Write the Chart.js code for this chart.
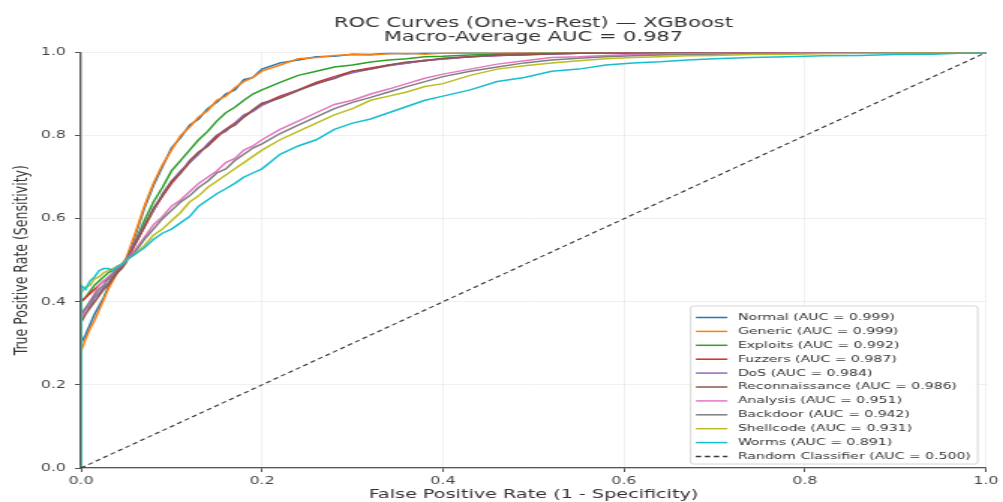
<!DOCTYPE html>
<html lang="en">
<head>
<meta charset="UTF-8">
<title>ROC Curves - XGBoost</title>
<script src="https://cdn.jsdelivr.net/npm/chart.js@4.4.0/dist/chart.umd.min.js"></script>
<style>
  html, body { margin: 0; padding: 0; background: #fff; }
</style>
</head>
<body>
<!-- the canvas is drawn narrow and stretched sideways, like the source picture -->
<canvas id="rocChart" width="669" height="502" style="display:block;width:1003px;height:502px"></canvas>
<script>
// shared false positive rate grid
const fpr = [
  0, 0, 0.005, 0.01, 0.015, 0.02, 0.025, 0.03, 0.035, 0.04, 0.045,
  0.05, 0.06, 0.07, 0.08, 0.09, 0.10, 0.11, 0.12, 0.13, 0.14, 0.15,
  0.16, 0.17, 0.18, 0.19, 0.20, 0.22, 0.24, 0.26, 0.28, 0.30, 0.32,
  0.34, 0.36, 0.38, 0.40, 0.43, 0.46, 0.49, 0.52, 0.55, 0.58, 0.61,
  0.64, 0.67, 0.70, 0.74, 0.78, 0.82, 0.86, 0.90, 0.94, 0.97, 1.0
];

// true positive rate per class
const tprNormal = [
  0, 0.30, 0.32, 0.345, 0.37, 0.39, 0.41, 0.435, 0.455, 0.47, 0.485,
  0.50, 0.56, 0.625, 0.68, 0.725, 0.77, 0.795, 0.825, 0.84, 0.865, 0.88,
  0.90, 0.91, 0.935, 0.94, 0.96, 0.975, 0.982, 0.99, 0.991, 0.996, 0.995,
  0.998, 0.997, 0.999, 0.998, 1.0, 0.999, 1.0, 1.0, 1.0, 0.999, 1.0,
  1.0, 1.0, 1.0, 1.0, 1.0, 1.0, 1.0, 1.0, 1.0, 1.0, 1.0
];
const tprGeneric = [
  0, 0.28, 0.31, 0.335, 0.355, 0.38, 0.405, 0.43, 0.45, 0.47, 0.49,
  0.505, 0.565, 0.63, 0.685, 0.73, 0.765, 0.80, 0.82, 0.845, 0.86, 0.885,
  0.895, 0.915, 0.93, 0.94, 0.955, 0.97, 0.985, 0.988, 0.993, 0.995, 0.994,
  0.997, 0.998, 0.996, 0.999, 0.998, 0.999, 1.0, 0.999, 1.0, 1.0, 0.999,
  1.0, 1.0, 1.0, 1.0, 1.0, 1.0, 1.0, 1.0, 1.0, 1.0, 1.0
];
const tprExploits = [
  0, 0.40, 0.41, 0.425, 0.44, 0.45, 0.46, 0.47, 0.475, 0.485, 0.49,
  0.50, 0.545, 0.595, 0.64, 0.675, 0.715, 0.74, 0.765, 0.79, 0.81, 0.835,
  0.855, 0.868, 0.885, 0.90, 0.91, 0.928, 0.945, 0.955, 0.965, 0.97, 0.977,
  0.982, 0.985, 0.99, 0.991, 0.994, 0.996, 0.997, 0.998, 0.999, 0.998, 0.999,
  1.0, 0.999, 1.0, 1.0, 1.0, 0.999, 1.0, 1.0, 1.0, 1.0, 1.0
];
const tprFuzzers = [
  0, 0.40, 0.41, 0.42, 0.43, 0.44, 0.45, 0.455, 0.465, 0.475, 0.485,
  0.50, 0.54, 0.58, 0.62, 0.655, 0.685, 0.71, 0.735, 0.76, 0.775, 0.795,
  0.815, 0.83, 0.845, 0.86, 0.875, 0.895, 0.91, 0.928, 0.942, 0.955, 0.963,
  0.97, 0.975, 0.98, 0.985, 0.99, 0.993, 0.995, 0.997, 0.998, 0.999, 0.998,
  0.999, 1.0, 1.0, 0.999, 1.0, 1.0, 1.0, 1.0, 1.0, 1.0, 1.0
];
const tprDoS = [
  0, 0.36, 0.38, 0.39, 0.41, 0.42, 0.435, 0.445, 0.46, 0.47, 0.485,
  0.50, 0.545, 0.585, 0.62, 0.66, 0.69, 0.715, 0.735, 0.755, 0.78, 0.80,
  0.81, 0.83, 0.85, 0.858, 0.873, 0.892, 0.91, 0.924, 0.94, 0.951, 0.96,
  0.968, 0.974, 0.982, 0.984, 0.99, 0.992, 0.995, 0.996, 0.998, 0.998, 0.999,
  1.0, 0.999, 1.0, 1.0, 1.0, 1.0, 1.0, 1.0, 1.0, 1.0, 1.0
];
const tprRecon = [
  0, 0.35, 0.37, 0.385, 0.40, 0.415, 0.43, 0.44, 0.455, 0.47, 0.48,
  0.495, 0.54, 0.58, 0.625, 0.655, 0.69, 0.71, 0.74, 0.76, 0.775, 0.80,
  0.815, 0.825, 0.845, 0.862, 0.878, 0.89, 0.908, 0.926, 0.937, 0.955, 0.96,
  0.97, 0.977, 0.98, 0.986, 0.99, 0.994, 0.994, 0.997, 0.998, 0.999, 0.999,
  1.0, 1.0, 0.999, 1.0, 1.0, 1.0, 1.0, 1.0, 1.0, 1.0, 1.0
];
const tprAnalysis = [
  0, 0.36, 0.38, 0.40, 0.42, 0.44, 0.45, 0.46, 0.47, 0.48, 0.49,
  0.50, 0.525, 0.555, 0.585, 0.605, 0.63, 0.645, 0.665, 0.685, 0.70, 0.715,
  0.735, 0.745, 0.765, 0.775, 0.79, 0.815, 0.835, 0.855, 0.875, 0.885, 0.90,
  0.912, 0.925, 0.938, 0.948, 0.96, 0.972, 0.98, 0.988, 0.99, 0.993, 0.995,
  0.996, 0.997, 0.998, 0.998, 0.999, 1.0, 0.999, 1.0, 1.0, 1.0, 1.0
];
const tprBackdoor = [
  0, 0.37, 0.385, 0.40, 0.415, 0.43, 0.44, 0.455, 0.465, 0.48, 0.49,
  0.50, 0.52, 0.55, 0.575, 0.60, 0.62, 0.64, 0.655, 0.675, 0.69, 0.71,
  0.72, 0.74, 0.755, 0.77, 0.78, 0.805, 0.825, 0.845, 0.865, 0.88, 0.892,
  0.905, 0.918, 0.93, 0.942, 0.955, 0.965, 0.975, 0.982, 0.986, 0.99, 0.992,
  0.994, 0.995, 0.996, 0.998, 0.997, 0.999, 1.0, 0.999, 1.0, 1.0, 1.0
];
const tprShellcode = [
  0, 0.42, 0.435, 0.44, 0.455, 0.46, 0.47, 0.475, 0.48, 0.485, 0.49,
  0.50, 0.515, 0.535, 0.56, 0.575, 0.595, 0.615, 0.64, 0.655, 0.675, 0.69,
  0.705, 0.72, 0.735, 0.75, 0.765, 0.79, 0.81, 0.83, 0.85, 0.865, 0.885,
  0.895, 0.905, 0.918, 0.925, 0.945, 0.96, 0.968, 0.975, 0.98, 0.985, 0.988,
  0.99, 0.992, 0.993, 0.995, 0.996, 0.997, 0.998, 0.999, 1.0, 1.0, 1.0
];
const tprWorms = [
  0, 0.44, 0.43, 0.45, 0.46, 0.475, 0.48, 0.48, 0.475, 0.485, 0.49,
  0.50, 0.515, 0.53, 0.55, 0.565, 0.575, 0.59, 0.605, 0.63, 0.645, 0.66,
  0.672, 0.685, 0.70, 0.71, 0.72, 0.755, 0.775, 0.79, 0.815, 0.83, 0.84,
  0.855, 0.87, 0.885, 0.895, 0.91, 0.93, 0.94, 0.955, 0.96, 0.97, 0.975,
  0.978, 0.982, 0.985, 0.988, 0.99, 0.992, 0.993, 0.995, 0.996, 0.998, 1.0
];

const classNames = ['Normal', 'Generic', 'Exploits', 'Fuzzers', 'DoS',
  'Reconnaissance', 'Analysis', 'Backdoor', 'Shellcode', 'Worms'];
const aucScores = [0.999, 0.999, 0.992, 0.987, 0.984, 0.986, 0.951, 0.942, 0.931, 0.891];
const tprSeries = [tprNormal, tprGeneric, tprExploits, tprFuzzers, tprDoS,
  tprRecon, tprAnalysis, tprBackdoor, tprShellcode, tprWorms];

// diagonal of the random classifier
const randomFpr = [0, 1];
const randomTpr = [0, 1];

const tickValues = [0, 0.2, 0.4, 0.6, 0.8, 1.0];

// tab10
const palette = ['#1f77b4', '#ff7f0e', '#2ca02c', '#d62728', '#9467bd',
  '#8c564b', '#e377c2', '#7f7f7f', '#bcbd22', '#17becf'];

const FONT = '"DejaVu Sans", "Liberation Sans", sans-serif';

const datasets = classNames.map((name, i) => ({
  label: name + ' (AUC = ' + aucScores[i].toFixed(3) + ')',
  data: fpr.map((x, k) => ({x: x, y: tprSeries[i][k]})),
  borderColor: palette[i],
  borderWidth: 1.5,
  pointRadius: 0,
  tension: 0,
  order: 10 - i
}));
datasets.push({
  label: 'Random Classifier (AUC = 0.500)',
  data: randomFpr.map((x, k) => ({x: x, y: randomTpr[k]})),
  borderColor: '#333333',
  borderWidth: 1.1,
  borderDash: [3.5, 2.5],
  pointRadius: 0,
  order: 0
});

// legend box sitting inside the lower right corner of the plot
const insideLegend = {
  id: 'insideLegend',
  afterDatasetsDraw(chart) {
    const ctx = chart.ctx;
    const area = chart.chartArea;
    const items = chart.data.datasets;
    const rowH = 13.9;
    const right = area.right - 5.5;
    const bottom = area.bottom - 4;
    const left = right - 191.5;
    const top = bottom - 158;
    ctx.save();
    ctx.fillStyle = 'rgba(255,255,255,0.85)';
    ctx.strokeStyle = '#cccccc';
    ctx.lineWidth = 0.8;
    ctx.beginPath();
    ctx.roundRect(left, top, right - left, bottom - top, 2);
    ctx.fill();
    ctx.stroke();
    ctx.font = '9.4px ' + FONT;
    ctx.textBaseline = 'middle';
    items.forEach((ds, i) => {
      const y = bottom - 7.5 - (items.length - 1 - i) * rowH;
      ctx.strokeStyle = ds.borderColor;
      ctx.lineWidth = 1.5;
      ctx.setLineDash(ds.borderDash || []);
      ctx.beginPath();
      ctx.moveTo(left + 3.5, y);
      ctx.lineTo(left + 24.5, y);
      ctx.stroke();
      ctx.setLineDash([]);
      ctx.fillStyle = '#333333';
      ctx.fillText(ds.label, left + 31.5, y);
    });
    ctx.restore();
  }
};

const ctx = document.getElementById('rocChart').getContext('2d');
const rocChart = new Chart(ctx, {
  type: 'line',
  data: { datasets: datasets },
  plugins: [insideLegend],
  options: {
    responsive: false,
    animation: false,
    devicePixelRatio: 1,
    layout: { padding: { left: 0, right: 10, top: 0, bottom: 0 } },
    plugins: {
      legend: { display: false },
      tooltip: { enabled: false },
      title: {
        display: true,
        fullSize: false,
        text: ['ROC Curves (One-vs-Rest) \u2014 XGBoost', 'Macro-Average AUC = 0.987'],
        color: '#333333',
        font: { family: FONT, size: 14, weight: 'normal', lineHeight: 1.0 },
        padding: { top: 16, bottom: 8.5 }
      }
    },
    scales: {
      x: {
        type: 'linear',
        min: 0,
        max: 1,
        afterBuildTicks: s => { s.ticks = tickValues.map(v => ({value: v})); },
        afterFit: s => { s.height = 34; },
        ticks: {
          color: '#444444',
          font: { family: FONT, size: 10.5 },
          padding: 3,
          callback: v => Number(v).toFixed(1)
        },
        grid: { color: 'rgba(0,0,0,0.08)', lineWidth: 0.8, tickColor: '#555555', tickLength: 4, tickWidth: 1 },
        border: { color: '#555555', width: 1.3 },
        title: {
          display: true,
          text: 'False Positive Rate (1 - Specificity)',
          color: '#333333',
          font: { family: FONT, size: 12.8 },
          padding: { top: 0, bottom: 0 }
        }
      },
      y: {
        type: 'linear',
        min: 0,
        max: 1,
        afterBuildTicks: s => { s.ticks = tickValues.map(v => ({value: v})); },
        afterFit: s => { s.width = 54; },
        ticks: {
          color: '#444444',
          font: { family: FONT, size: 10.5 },
          padding: 6,
          callback: v => Number(v).toFixed(1)
        },
        grid: { color: 'rgba(0,0,0,0.08)', lineWidth: 0.8, tickColor: '#555555', tickLength: 4, tickWidth: 1 },
        border: { color: '#555555', width: 1.3 },
        title: {
          display: true,
          text: 'True Positive Rate (Sensitivity)',
          color: '#333333',
          font: { family: FONT, size: 12.5 },
          padding: { top: 7, bottom: 0 }
        }
      }
    }
  }
});
</script>
</body>
</html>
